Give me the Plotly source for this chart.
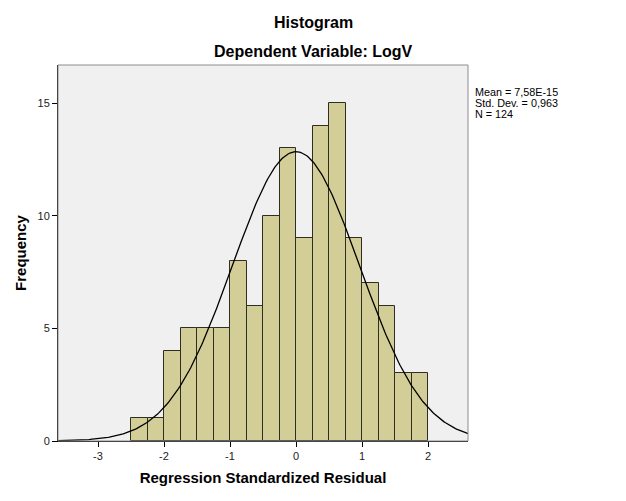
import numpy as np
import plotly.graph_objects as go

# histogram bins (left edges) and counts
bin_left = [-2.5, -2.25, -2.0, -1.75, -1.5, -1.25, -1.0, -0.75, -0.5,
            -0.25, 0.0, 0.25, 0.5, 0.75, 1.0, 1.25, 1.5, 1.75]
counts = [1, 1, 4, 5, 5, 5, 8, 6, 10, 13, 9, 14, 15, 9, 7, 6, 3, 3]
bin_width = 0.25

# summary statistics shown on the chart
mean = 7.58e-15
std_dev = 0.963
n_obs = 124
stats_text = ["Mean = 7,58E-15", "Std. Dev. = 0,963", "N = 124"]

x_ticks = [-3, -2, -1, 0, 1, 2]
y_ticks = [0, 5, 10, 15]

FONT = "Liberation Sans, Arial, sans-serif"
PLOT_H = 376  # plot area height in px

# normal curve overlay scaled to the histogram
curve_x = np.linspace(-3.62, 2.62, 300)
curve_y = (n_obs * bin_width / (std_dev * np.sqrt(2 * np.pi))
           * np.exp(-0.5 * ((curve_x - mean) / std_dev) ** 2))

fig = go.Figure()
fig.add_trace(go.Bar(
    x=[b + bin_width / 2 for b in bin_left],
    y=counts,
    width=bin_width,
    marker=dict(color="#d3ce97", line=dict(color="#2e2e22", width=1)),
    hoverinfo="y",
))
fig.add_trace(go.Scatter(
    x=curve_x, y=curve_y, mode="lines",
    line=dict(color="black", width=1.3),
    hoverinfo="skip",
))

# gray frame around plot area
fig.add_shape(type="rect", xref="paper", yref="paper", x0=0, y0=0, x1=1, y1=1,
              line=dict(color="#8c8c8c", width=1), layer="above")

fig.add_annotation(text="<b>Histogram</b>", xref="paper", yref="paper",
                   x=0.622, y=1.114, yanchor="middle", showarrow=False,
                   font=dict(family=FONT, size=16, color="black"))
fig.add_annotation(text="<b>Dependent Variable: LogV</b>", xref="paper", yref="paper",
                   x=0.622, y=1.035, yanchor="middle", showarrow=False,
                   font=dict(family=FONT, size=16, color="black"))
for i, line in enumerate(stats_text):
    fig.add_annotation(
        text=line, xref="paper", yref="paper",
        x=1.012, y=1 - (27 + 11 * i) / PLOT_H, xanchor="left", yanchor="middle",
        align="left", showarrow=False,
        font=dict(family=FONT, size=10.8, color="black"))

# page body has an 8px margin, so the figure is sized and offset to compensate
fig.update_layout(
    width=610, height=485,
    margin=dict(l=50, r=150, t=57, b=52, autoexpand=False),
    paper_bgcolor="white",
    plot_bgcolor="#f0f0f0",
    showlegend=False,
    bargap=0,
    font=dict(family=FONT, size=11, color="#222222"),
)
fig.update_xaxes(
    range=[-3.606, 2.606], tickvals=x_ticks, ticktext=[str(v) for v in x_ticks],
    showgrid=False, zeroline=False, showline=True, linecolor="black", linewidth=1,
    ticks="outside", ticklen=5, tickcolor="black", automargin=False,
    tickfont=dict(color="#222222", size=11),
    title=dict(text="<b>Regression Standardized Residual</b>",
               font=dict(family=FONT, size=15, color="black"), standoff=11),
)
fig.update_yaxes(
    range=[0, 16.69], tickvals=y_ticks,
    showgrid=False, zeroline=False, showline=True, linecolor="black", linewidth=1,
    ticks="outside", ticklen=5, tickcolor="black", automargin=False,
    tickfont=dict(color="#222222", size=11),
    title=dict(text="<b>Frequency</b>",
               font=dict(family=FONT, size=15, color="black"), standoff=7),
)

fig.write_html("out.html")
